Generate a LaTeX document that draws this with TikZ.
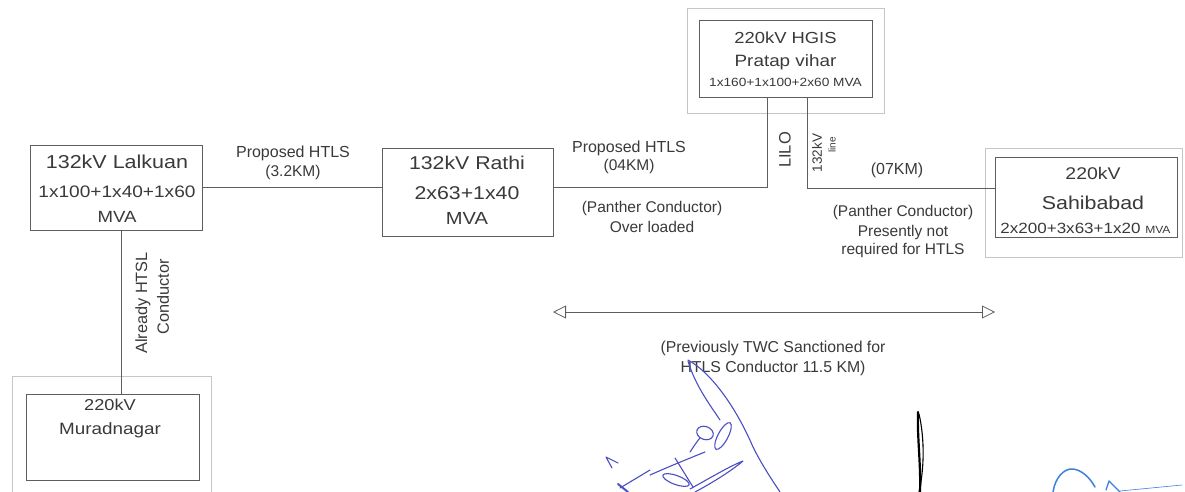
\documentclass[tikz,border=0pt]{standalone}
\usepackage{fontspec}
\setmainfont{Liberation Sans}
\newfontfamily\boxfont[FakeStretch=1.15]{Liberation Sans}
\usetikzlibrary{arrows.meta}
\definecolor{txt}{HTML}{3A3A3A}
\definecolor{ln}{HTML}{5E5E5E}
\definecolor{frm}{HTML}{C6C6C6}
\definecolor{ink}{HTML}{4B4FC4}
\definecolor{inkb}{HTML}{3F7FE0}
\newcommand\fsz[1]{\fontsize{#1}{#1}\selectfont}
\begin{document}
\begin{tikzpicture}[x=1pt,y=-1pt,
  box/.style={draw=ln, line width=0.8pt, inner sep=0pt},
  outer/.style={draw=frm, line width=0.8pt},
  wire/.style={draw=ln, line width=0.8pt},
  bt/.style={text=txt, inner sep=0pt, anchor=center, font=\boxfont},
  lt/.style={text=txt, inner sep=0pt, anchor=center},
  sig/.style={line width=1.1pt, line cap=round, line join=round}]
\useasboundingbox (0,0) rectangle (1185,492);
\fill[white] (0,0) rectangle (1185,492);

% outer frames
\draw[outer] (687,8) rectangle (884,113);
\draw[outer] (985,148) rectangle (1182,257);
\draw[outer] (12,492) -- (12,376) -- (211,376) -- (211,492);

% boxes
\node[box, minimum width=172pt, minimum height=85pt] (lal) at (116,187.5) {};
\node[box, minimum width=171pt, minimum height=88pt] (rat) at (467.5,192) {};
\node[box, minimum width=173pt, minimum height=77pt] (hgis) at (785.5,58.5) {};
\node[box, minimum width=182pt, minimum height=80pt] (sah) at (1086,197) {};
\node[box, minimum width=173pt, minimum height=86pt] (mur) at (112.5,437) {};

% box texts
\node[bt, font=\boxfont\fsz{18.7}] (lal1) at (117,162) {132kV Lalkuan};
\node[bt, font=\boxfont\fsz{16.6}] (lal2) at (117,192) {1x100+1x40+1x60};
\node[bt, font=\boxfont\fsz{16.2}] (lal3) at (117,217) {MVA};

\node[bt, font=\boxfont\fsz{18.5}] (rat1) at (467,163) {132kV Rathi};
\node[bt, font=\boxfont\fsz{18.5}] (rat2) at (467,193) {2x63+1x40};
\node[bt, font=\boxfont\fsz{17.5}] (rat3) at (467,218) {MVA};

\node[bt, font=\boxfont\fsz{16}] (hg1) at (785.5,38) {220kV HGIS};
\node[bt, font=\boxfont\fsz{16.4}] (hg2) at (785.5,62) {Pratap vihar};
\node[bt, font=\boxfont\fsz{11.9}] (hg3) at (785.5,82) {1x160+1x100+2x60 MVA};

\node[bt, font=\boxfont\fsz{16.9}] (sa1) at (1093,173) {220kV};
\node[bt, font=\boxfont\fsz{18.6}] (sa2) at (1093,203) {Sahibabad};
\node[bt, font=\boxfont\fsz{14.8}] (sa3) at (1085.5,228) {2x200+3x63+1x20 {\fsz{10.5}MVA}};

\node[bt, font=\boxfont\fsz{15.8}] (mu1) at (110,405) {220kV};
\node[bt, font=\boxfont\fsz{16.4}] (mu2) at (110,430) {Muradnagar};

% junction coordinates
\coordinate (j1) at (767,187);
\coordinate (j2) at (807,188);
\coordinate (j3) at (121,300);
\coordinate (a1) at (553,312);
\coordinate (a2) at (995,312);

% connectors
\draw[wire] (lal.east|-j1) -- (rat.west|-j1);
\draw[wire] (rat.east|-j1) -- (j1) -- (j1|-hgis.south);
\draw[wire] (j2|-hgis.south) -- (j2) -- (j2-|sah.west);
\draw[wire] (j3|-lal.south) -- (j3|-mur.north);
\draw[wire, {Triangle[open,length=13pt,width=13pt]}-{Triangle[open,length=13pt,width=13pt]}] (a1) -- (a2);

% labels
\node[lt, font=\fsz{16}] (l1) at (293,153) {Proposed HTLS};
\node[lt, font=\fsz{15.5}] (l2) at (293,172) {(3.2KM)};
\node[lt, font=\fsz{16}] (l3) at (629,148) {Proposed HTLS};
\node[lt, font=\fsz{15.5}] (l4) at (629,166) {(04KM)};
\node[lt, font=\fsz{15.5}] (l5) at (652,208) {(Panther Conductor)};
\node[lt, font=\fsz{15.5}] (l6) at (652,227) {Over loaded};
\node[lt, font=\fsz{16}] (l7) at (897,170) {(07KM)};
\node[lt, font=\fsz{15.5}] (l8) at (903,212) {(Panther Conductor)};
\node[lt, font=\fsz{15.5}] (l9) at (903,232) {Presently not};
\node[lt, font=\fsz{15.5}] (l10) at (903,250) {required for HTLS};
\node[lt, font=\fsz{16.5}, rotate=90] (l11) at (785,150) {LILO};
\node[lt, font=\fsz{13.5}, rotate=90] (l12) at (817,153) {132kV};
\node[lt, font=\fsz{10}, rotate=90] (l13) at (832,145) {line};
\node[lt, font=\fsz{16.3}, rotate=90] (l14) at (143,303) {Already HTSL};
\node[lt, font=\fsz{16.3}, rotate=90] (l15) at (163,297) {Conductor};
\node[lt, font=\fsz{15.8}] (l16) at (773,348) {(Previously TWC Sanctioned for};
\node[lt, font=\fsz{15.8}] (l17) at (773,368) {HTLS Conductor 11.5 KM)};

% signatures (hand-drawn marks)
\draw[sig, ink] (688,360) .. controls (710,372) and (735,405) .. (753,447) .. controls (762,465) and (772,480) .. (780,492);
\draw[sig, ink] (688,361) .. controls (695,385) and (710,405) .. (720,420);
\draw[sig, ink, rotate around={-28:(723,436)}] (723,436) ellipse (5 and 15);
\draw[sig, ink, rotate around={-20:(705,433)}] (705,433) ellipse (8.5 and 6.5);
\draw[sig, ink] (690,452) .. controls (694,446) and (698,440) .. (700,438);
\draw[sig, ink] (675,458) -- (693,487);
\draw[sig, ink] (650,475) .. controls (668,467) and (690,458) .. (705,452);
\draw[sig, ink, rotate around={-20:(676,480)}] (676,480) ellipse (14 and 4.5);
\draw[sig, ink] (690,489) .. controls (710,478) and (730,466) .. (743,461) .. controls (730,472) and (710,484) .. (695,492);
\draw[sig, ink] (612,468) -- (606,457) -- (618,463);
\draw[sig, ink] (620,488) -- (650,470);
\draw[sig, ink, line width=2pt] (618,484) -- (628,492);
\draw[sig, black, line width=2.2pt] (918,412) .. controls (917,435) and (921,465) .. (920,492);
\draw[sig, black] (919,414) .. controls (925,440) and (924,470) .. (919,492);
\draw[sig, inkb, line width=1.5pt] (1053,492) .. controls (1055,478) and (1064,468) .. (1073,469) .. controls (1082,470) and (1090,478) .. (1095,487);
\draw[sig, inkb, line width=1.3pt] (1106,490) -- (1109,481) -- (1120,492);
\draw[sig, inkb, line width=0.6pt] (1120,491) -- (1182,485);
\end{tikzpicture}
\end{document}
